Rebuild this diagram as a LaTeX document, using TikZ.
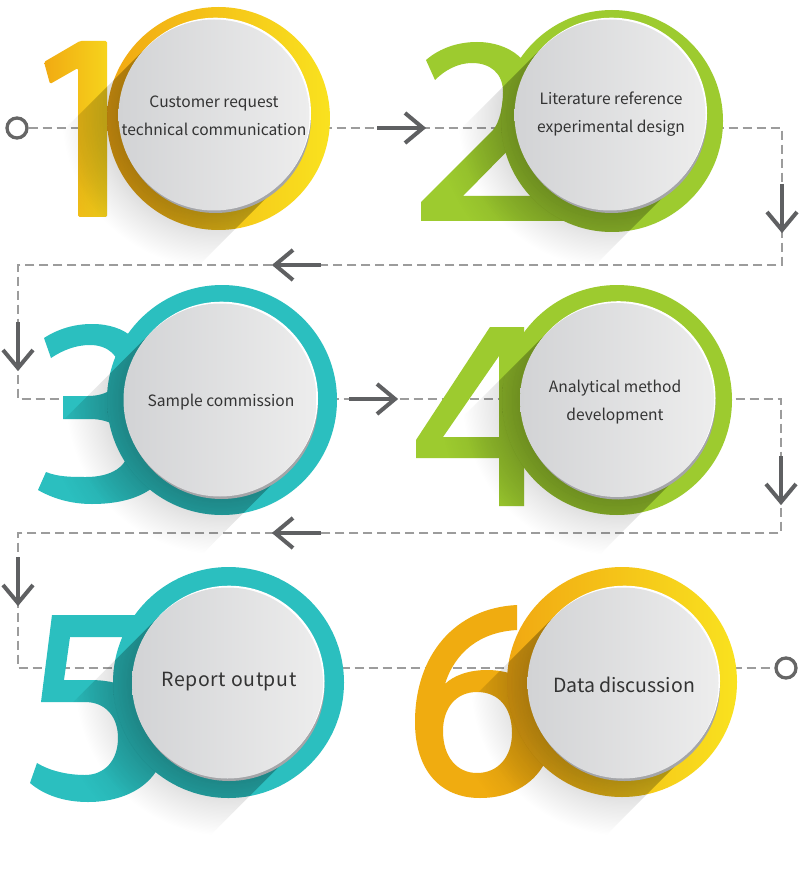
\documentclass[tikz,border=0pt]{standalone}
\usepackage{fontspec}
\newfontfamily\lblfont{Noto Sans CJK SC}
\newfontfamily\lblwide{Noto Sans CJK SC}[LetterSpace=3]
\usetikzlibrary{calc}
\definecolor{tealc}{HTML}{2BBFBF}
\definecolor{greenc}{HTML}{9DCB2F}
\definecolor{orangec}{HTML}{F0AC10}
\definecolor{orangeL}{HTML}{F1A812}
\definecolor{yellowR}{HTML}{F9E21F}
\definecolor{dig1L}{HTML}{F1AA12}
\definecolor{dig1R}{HTML}{F6D31C}
\definecolor{discL}{HTML}{D2D3D5}
\definecolor{discR}{HTML}{EDEDED}
\definecolor{discrim}{HTML}{A4A5A8}
\definecolor{arrowgray}{HTML}{5F6062}
\definecolor{dashgray}{HTML}{9C9C9C}
\definecolor{dotgray}{HTML}{666666}
\definecolor{txt}{HTML}{333333}
\pgfdeclareradialshading{bgsh}{\pgfpoint{0bp}{0bp}}{color(0bp)=(black!20); color(12.5bp)=(black!18); color(16bp)=(black!9); color(20bp)=(white); color(50bp)=(white)}
\pgfdeclareradialshading{fgsh}{\pgfpoint{0bp}{0bp}}{color(0bp)=(black!14); color(12.5bp)=(black!14); color(18bp)=(black!8); color(23bp)=(white); color(50bp)=(white)}
\tikzset{
  sband/.style n args={3}{insert path={({#1-0.7071*#3},{#2-0.7071*#3}) -- ({#1-2.1213*#3},{#2+0.7071*#3}) -- ({#1-0.7071*#3},{#2+2.1213*#3}) -- ({#1+0.7071*#3},{#2+0.7071*#3}) -- cycle}},
  dgA/.style={insert path={(44,62) -- (80,41) -- (107,41) -- (107,217) -- (78,217) -- (78,68) -- (50,84) -- cycle}},
  dgB/.style={insert path={(421,221) -- (421,202) -- (493,130) .. controls (500,122) and (503,105) .. (503,92) .. controls (503,73) and (490,63) .. (472,63) .. controls (458,63) and (445,70) .. (435,80) -- (426,60) .. controls (440,48) and (458,42) .. (477,42) .. controls (510,42) and (535,62) .. (535,92) .. controls (535,110) and (530,125) .. (520,138) -- (463,196) -- (575,196) -- (575,221) -- cycle}},
  dgC/.style={insert path={(44,338) .. controls (58,329) and (74,324) .. (92,324) .. controls (126,324) and (146,343) .. (146,368) .. controls (146,386) and (136,398) .. (122,406) .. controls (148,414) and (168,432) .. (168,456) .. controls (168,488) and (135,504) .. (92,504) .. controls (70,504) and (52,498) .. (38,490) -- (46,472) .. controls (58,477) and (72,477) .. (86,477) .. controls (112,477) and (128,466) .. (128,450) .. controls (128,430) and (112,419) .. (90,419) -- (63,419) -- (63,396) -- (88,396) .. controls (108,396) and (120,386) .. (120,372) .. controls (120,356) and (108,345) .. (90,345) .. controls (76,345) and (63,350) .. (51,358) -- cycle}},
  dgD/.style={insert path={(416,440) -- (490,327) -- (524,327) -- (524,506) -- (499,506) -- (499,458) -- (416,458) -- cycle (443,437) -- (499,356) -- (499,437) -- cycle}},
  dgE/.style={insert path={(52,615) -- (150,615) -- (150,637) -- (70,637) -- (64,680) -- (90,680) .. controls (135,680) and (165,705) .. (165,740) .. controls (165,780) and (130,802) .. (88,802) .. controls (64,802) and (44,795) .. (30,783) -- (37,763) .. controls (50,771) and (68,775) .. (85,775) .. controls (105,775) and (118,760) .. (118,738) .. controls (118,716) and (105,702) .. (85,702) -- (41,702) -- cycle}},
  dgF/.style={insert path={(517,605) .. controls (455,608) and (415,655) .. (415,722) .. controls (415,770) and (440,798) .. (480,798) .. controls (525,798) and (552,768) .. (552,733) .. controls (552,695) and (525,670) .. (487,670) .. controls (468,670) and (453,676) .. (445,684) .. controls (455,652) and (480,632) .. (517,630) -- cycle (477,692) .. controls (456,692) and (443,708) .. (443,731) .. controls (443,757) and (457,773) .. (477,773) .. controls (498,773) and (512,757) .. (512,733) .. controls (512,708) and (499,692) .. (477,692) -- cycle}},
  dashline/.style={draw=dashgray, line width=1.3pt, dash pattern=on 9pt off 5pt},
  arw/.style={draw=arrowgray, line width=4pt},
  enddot/.style={circle, draw=dotgray, line width=3.3pt, fill=white, minimum size=20pt, inner sep=0pt},
  discnode/.style={circle, inner sep=0pt, left color=discL, right color=discR},
  lbl/.style={font=\lblfont\fontsize{15.6}{28}\selectfont, text=txt, align=center, inner sep=0pt},
  lblbig/.style={font=\lblfont\fontsize{19.5}{28}\selectfont, text=txt, align=center, inner sep=0pt}
}
\newcommand{\itemshadow}[7]{%
  \begin{scope}
    \path[clip, sband={#1}{#2}{#3}];
    \begin{scope}[blend mode=multiply]
      \shade[shading=bgsh] (#1,#2) circle ({2*#3});
      \begin{scope}
        \clip (#4,#5) circle (#6);
        \shade[shading=fgsh] (#1,#2) circle ({2*#3});
      \end{scope}
      \begin{scope}[even odd rule]
        \path[clip, #7];
        \path[clip] (-50,-50) rectangle (850,950) (#4,#5) circle (#6);
        \shade[shading=fgsh] (#1,#2) circle ({2*#3});
      \end{scope}
    \end{scope}
  \end{scope}}
\newcommand{\discdraw}[4]{%
  \fill[discrim] ({#2+1.5},{#3+2.5}) circle (#4);
  \fill[white] ({#2+1.5},{#3-1.8}) circle (#4);
  \node[discnode, minimum size=#4*2pt] (#1) at (#2,#3) {};}
\newcommand{\arrR}[1]{\draw[arw] ($(#1)+(-46,0)$) -- (#1); \draw[arw, line join=miter] ($(#1)+(-18,-15)$) -- (#1) -- ($(#1)+(-18,15)$);}
\newcommand{\arrL}[1]{\draw[arw] ($(#1)+(46,0)$) -- (#1); \draw[arw, line join=miter] ($(#1)+(18,-15)$) -- (#1) -- ($(#1)+(18,15)$);}
\newcommand{\arrD}[1]{\draw[arw] ($(#1)+(0,-46)$) -- (#1); \draw[arw, line join=miter] ($(#1)+(-15,-18)$) -- (#1) -- ($(#1)+(15,-18)$);}
\begin{document}
\begin{tikzpicture}[x=1pt, y=-1pt]
\useasboundingbox (0,0) rectangle (800,890);
\fill[white] (0,0) rectangle (800,890);
% route of the dashed connector
\node[enddot] (st) at (17,128) {};
\node[enddot] (en) at (786,668) {};
\coordinate (c1) at (782,128);
\coordinate (c2) at (782,265);
\coordinate (c3) at (18,265);
\coordinate (c4) at (18,399);
\coordinate (c5) at (781,399);
\coordinate (c6) at (781,533);
\coordinate (c7) at (18,533);
\coordinate (c8) at (18,668);
\draw[dashline] (st.east) -- (c1) -- (c2) -- (c3) -- (c4) -- (c5) -- (c6) -- (c7) -- (c8) -- (en.west);
% ---- item 1
\shade[left color=dig1L, right color=dig1R, rounded corners=1.5pt, dgA];
\shade[left color=orangeL, right color=yellowR] (218.5,118.5) circle (111.5);
\itemshadow{214}{115}{95.5}{218.5}{118.5}{111.5}{dgA}
\discdraw{d1}{214}{115}{95.5}
\node[lbl] (t1) at (214,116) {Customer request\\technical communication};
% ---- item 2
\fill[greenc, dgB];
\fill[greenc] (612,121) circle (111);
\itemshadow{610}{115}{95.5}{612}{121}{111}{dgB}
\discdraw{d2}{610}{115}{95.5}
\node[lbl] (t2) at (611,114) {Literature reference\\experimental design};
% ---- item 3
\fill[tealc, dgC];
\fill[tealc] (222,400) circle (115);
\itemshadow{220}{400}{96.5}{222}{400}{115}{dgC}
\discdraw{d3}{220}{400}{96.5}
\node[lbl] (t3) at (221,402) {Sample commission};
% ---- item 4
\fill[greenc, even odd rule, dgD];
\fill[greenc] (617,400) circle (115);
\itemshadow{617}{400}{97}{617}{400}{115}{dgD}
\discdraw{d4}{617}{400}{97}
\node[lbl] (t4) at (615,402) {Analytical method\\development};
% ---- item 5
\fill[tealc, dgE];
\fill[tealc] (228.5,682.5) circle (115.5);
\itemshadow{227.5}{683}{95.5}{228.5}{682.5}{115.5}{dgE}
\discdraw{d5}{227.5}{683}{95.5}
\node[lblbig, font=\lblwide\fontsize{19.5}{28}\selectfont] (t5) at (229,682) {Report output};
% ---- item 6
\fill[orangec, even odd rule, dgF];
\shade[left color=orangeL, right color=yellowR] (622,682) circle (115);
\itemshadow{623}{683}{95.5}{622}{682}{115}{dgF}
\discdraw{d6}{623}{683}{95.5}
\node[lblbig] (t6) at (624,685) {Data discussion};
% ---- arrows
\coordinate (a1) at (423,128);
\coordinate (a2) at (782,230);
\coordinate (a3) at (275,265);
\coordinate (a4) at (18,368);
\coordinate (a5) at (395,399);
\coordinate (a6) at (781,502);
\coordinate (a7) at (275,533);
\coordinate (a8) at (18,603);
\arrR{a1}
\arrD{a2}
\arrL{a3}
\arrD{a4}
\arrR{a5}
\arrD{a6}
\arrL{a7}
\arrD{a8}
\end{tikzpicture}
\end{document}
